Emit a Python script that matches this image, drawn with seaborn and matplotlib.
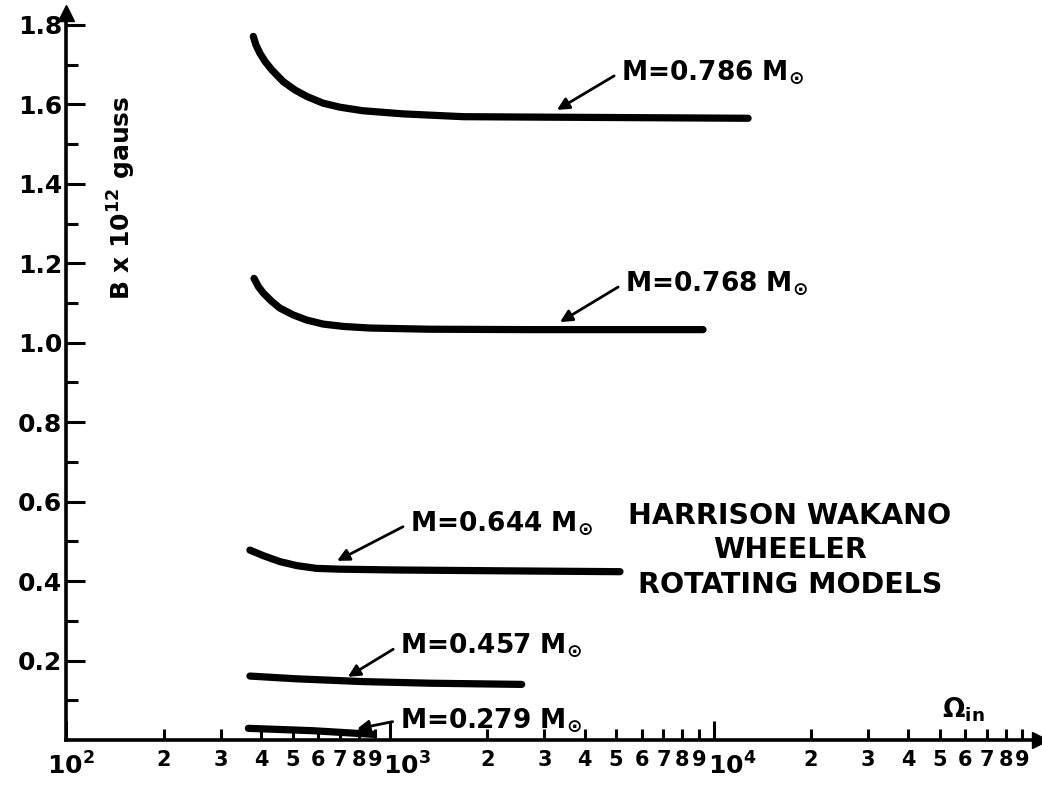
import numpy as np
import pandas as pd
import matplotlib
matplotlib.use("Agg")
import matplotlib.pyplot as plt
import matplotlib.ticker as mticker
import matplotlib.transforms as mtrans
import seaborn as sns

# ---------------- data ----------------
masses = ["0.786", "0.768", "0.644", "0.457", "0.279"]

omega_0786 = [378, 385, 396, 411, 431, 468, 509, 553, 621, 699, 823, 1100, 1685, 2710, 12790]
b_0786 = [1.771, 1.750, 1.729, 1.708, 1.687, 1.657, 1.636, 1.620, 1.603, 1.593, 1.584,
          1.576, 1.569, 1.568, 1.565]

omega_0768 = [380, 392, 406, 431, 457, 502, 553, 621, 718, 866, 1330, 2709, 9280]
b_0768 = [1.162, 1.141, 1.125, 1.104, 1.087, 1.070, 1.057, 1.047, 1.041, 1.037, 1.034,
          1.033, 1.033]

omega_0644 = [369, 406, 457, 515, 593, 700, 1047, 2131, 5140]
b_0644 = [0.478, 0.464, 0.449, 0.439, 0.432, 0.430, 0.428, 0.426, 0.4237]

omega_0457 = [369, 515, 829, 1330, 2553]
b_0457 = [0.161, 0.154, 0.147, 0.143, 0.140]

omega_0279 = [365, 579, 888]
b_0279 = [0.0294, 0.0234, 0.0143]

y_major = [0.2, 0.4, 0.6, 0.8, 1.0, 1.2, 1.4, 1.6, 1.8]
y_minor = [0.1, 0.3, 0.5, 0.7, 0.9, 1.1, 1.3, 1.5, 1.7]
x_major = [1e2, 1e3, 1e4]
x_major_labels = [r"$10^2$", r"$10^3$", r"$10^4$"]
x_minor_digits = [2, 3, 4, 5, 6, 7, 8, 9]

title_text = "HARRISON WAKANO\nWHEELER\nROTATING MODELS"
ylabel_text = r"B x 10$^{12}$ gauss"
xlabel_text = r"$\Omega_{in}$"

# ---------------- layout (annotation placement) ----------------
label_xy = [(5176, 1.682), (5325, 1.1506), (1153, 0.546), (1074, 0.239), (1074, 0.050)]
arrow_head_xy = [(3281, 1.586), (3354, 1.052), (686, 0.451), (741, 0.159), (791, 0.028)]

# ---------------- build long table ----------------
series = [(omega_0786, b_0786), (omega_0768, b_0768), (omega_0644, b_0644),
          (omega_0457, b_0457), (omega_0279, b_0279)]
rows = []
for m, (om, bb) in zip(masses, series):
    for o, v in zip(om, bb):
        rows.append({"mass": m, "omega": o, "B": v})
df = pd.DataFrame(rows)

sns.set_theme(style="ticks")
plt.rcParams["font.family"] = ["DejaVu Sans"]
plt.rcParams["font.weight"] = "bold"
plt.rcParams["mathtext.fontset"] = "dejavusans"
plt.rcParams["mathtext.default"] = "bf"

fig = plt.figure(figsize=(10.42, 7.87), dpi=100)
fig.patch.set_facecolor("white")
ax = fig.add_axes([0.0638, 0.0597, 0.9343, 0.9238])
ax.set_facecolor("white")
ax.set_xscale("log")

sns.lineplot(data=df, x="omega", y="B", hue="mass", palette=["black"] * len(masses),
             estimator=None, sort=False, legend=False, linewidth=5.2,
             solid_capstyle="round", solid_joinstyle="round", ax=ax)

ax.set_xlim(100, 10 ** (2 + (1040 - 66.5) / 323.5))
ax.set_ylim(0, 1.83)

# spines
for s in ["top", "right"]:
    ax.spines[s].set_visible(False)
for s in ["left", "bottom"]:
    ax.spines[s].set_linewidth(2.6)
    ax.spines[s].set_color("black")

# axis arrows
ax.plot([1], [0], marker=">", ms=11, color="black", transform=ax.transAxes, clip_on=False)
ax.plot([0], [1], marker="^", ms=11, color="black", transform=ax.transAxes, clip_on=False)

# y ticks
ax.yaxis.set_major_locator(mticker.FixedLocator(y_major))
ax.yaxis.set_major_formatter(mticker.FixedFormatter([f"{v:.1f}" for v in y_major]))
ax.yaxis.set_minor_locator(mticker.FixedLocator(y_minor))
ax.tick_params(axis="y", which="major", direction="in", length=14, width=2.2,
               pad=3, labelsize=18, colors="black")
ax.tick_params(axis="y", which="minor", direction="in", length=8.5, width=2.2, colors="black")

# x ticks
ax.xaxis.set_major_locator(mticker.FixedLocator(x_major))
ax.xaxis.set_major_formatter(mticker.FixedFormatter(x_major_labels))
minor_locs = [d * 10 ** e for e in (2, 3, 4) for d in x_minor_digits]
minor_labels = [str(d) for e in (2, 3, 4) for d in x_minor_digits]
ax.xaxis.set_minor_locator(mticker.FixedLocator(minor_locs))
ax.xaxis.set_minor_formatter(mticker.FixedFormatter(minor_labels))
ax.tick_params(axis="x", which="major", direction="in", length=14, width=2.2,
               pad=9, labelsize=18, colors="black")
ax.tick_params(axis="x", which="minor", direction="in", length=8, width=2.2,
               pad=7, labelsize=15, colors="black")
for lab in ax.get_yticklabels() + ax.get_xticklabels(minor=True):
    lab.set_fontweight("bold")

# shift decade labels to the right like in the original
offsets_px = [4, 17, 19]
for tick, dx in zip(ax.xaxis.get_major_ticks(), offsets_px):
    tick.label1.set_transform(tick.label1.get_transform() +
                              mtrans.ScaledTranslation(dx / 100, 0, fig.dpi_scale_trans))

ax.set_xlabel("")
ax.set_ylabel(ylabel_text, fontsize=18, fontweight="bold", color="black")
ax.yaxis.set_label_coords(0.0735, 0.7455)

# curve labels with arrows
for m, (tx, ty), (hx, hy) in zip(masses, label_xy, arrow_head_xy):
    ax.annotate(f"M={m} M$_{{\\odot}}$", xy=(hx, hy), xytext=(tx, ty),
                ha="left", va="center", fontsize=19, fontweight="bold", color="black",
                arrowprops=dict(arrowstyle="-|>", color="black", lw=2.0,
                                mutation_scale=18, shrinkA=3, shrinkB=0,
                                relpos=(0, 0.5)))

ax.text(17240, 0.478, title_text, ha="center", va="center", multialignment="center",
        fontsize=20.5, fontweight="bold", linespacing=1.3, color="black")
ax.text(50800, 0.075, xlabel_text, ha="left", va="center", fontsize=19, color="black")

fig.savefig("out.png", dpi=100, facecolor="white")
